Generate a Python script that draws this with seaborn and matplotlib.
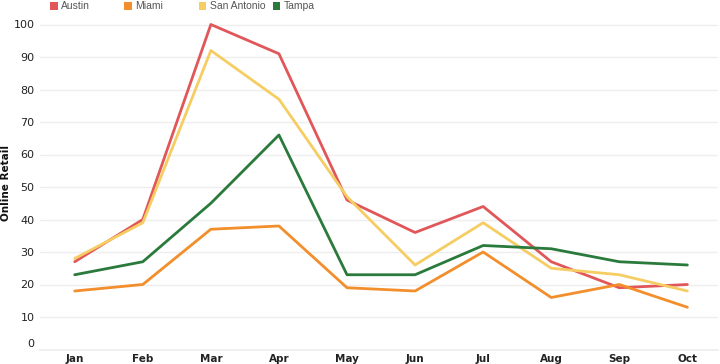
import matplotlib
matplotlib.use("Agg")
import matplotlib.pyplot as plt
import matplotlib.transforms as mtransforms
from matplotlib.patches import Rectangle
from matplotlib import font_manager
import seaborn as sns
import pandas as pd

months = ["Jan", "Feb", "Mar", "Apr", "May", "Jun", "Jul", "Aug", "Sep", "Oct"]
cities = ["Austin", "Miami", "San Antonio", "Tampa"]
austin = [27, 40, 100, 91, 46, 36, 44, 27, 19, 20]
miami = [18, 20, 37, 38, 19, 18, 30, 16, 20, 13]
san_antonio = [28, 39, 92, 77, 47, 26, 39, 25, 23, 18]
tampa = [23, 27, 45, 66, 23, 23, 32, 31, 27, 26]
colors = ["#e15759", "#f28e2b", "#f5cd62", "#2a7a3c"]
yticks = [0, 10, 20, 30, 40, 50, 60, 70, 80, 90, 100]

series = {"Austin": austin, "Miami": miami, "San Antonio": san_antonio, "Tampa": tampa}
rows = []
for c in cities:
    for m, v in zip(months, series[c]):
        rows.append({"Month": m, "City": c, "Online Retail": v})
df = pd.DataFrame(rows)

available = {f.name for f in font_manager.fontManager.ttflist}
narrow = "Liberation Sans Narrow" if "Liberation Sans Narrow" in available else "DejaVu Sans"
regular = "Liberation Sans" if "Liberation Sans" in available else "DejaVu Sans"

sns.set_theme(style="white")
plt.rcParams["font.family"] = [regular, "DejaVu Sans"]

fig = plt.figure(figsize=(7.2, 3.64), dpi=100)
W, H = 720, 364
left, right, bottom, top = 40, 718, 349.5, 16
ax = fig.add_axes([left / W, 1 - bottom / H, (right - left) / W, (bottom - top) / H])

sns.lineplot(data=df, x="Month", y="Online Retail", hue="City",
             hue_order=cities, palette=colors, linewidth=2, sort=False,
             legend=False, ax=ax)

ax.set_xlim(-0.51, 9.45)
ax.set_ylim(0, 100 + (24.5 - top) / 3.25)
ax.set_yticks(yticks)
ax.set_xticks(range(len(months)))
ax.set_xticklabels(months)
ax.yaxis.grid(True, color="#eeeeee", linewidth=1)
ax.xaxis.grid(False)
for s in ["top", "right", "left"]:
    ax.spines[s].set_visible(False)
ax.spines["bottom"].set_color("#eeeeee")
ax.tick_params(axis="both", length=0)
ax.tick_params(axis="x", pad=3, labelcolor="#222222")
ax.tick_params(axis="y", pad=4, labelcolor="#222222")
for lab in ax.get_xticklabels():
    lab.set_fontfamily(narrow)
    lab.set_fontweight("bold")
    lab.set_fontsize(7.5)
for lab in ax.get_yticklabels():
    lab.set_fontfamily(narrow)
    lab.set_fontsize(8)
# shift the 0 label up slightly
lab0 = ax.get_yticklabels()[0]
lab0.set_transform(lab0.get_transform() + mtransforms.ScaledTranslation(0, 6.5 / 100, fig.dpi_scale_trans))

ax.set_xlabel("")
ax.set_ylabel("Online Retail", fontsize=7.5, fontweight="bold", color="#111111",
              fontfamily=narrow)
ax.yaxis.set_label_coords((11 - left) / (right - left), 0.5)

# legend
for i, (c, col) in enumerate(zip(cities, colors)):
    x0 = 50 + i * 74.3
    fig.patches.append(Rectangle((x0 / W, 1 - 9.5 / H), 7.5 / W, 7.5 / H,
                                 transform=fig.transFigure, facecolor=col,
                                 edgecolor="none", figure=fig))
    fig.text((x0 + 11) / W, 1 - 6 / H, c, fontsize=7.5, color="#555555",
             va="center", ha="left", fontfamily=regular)

fig.savefig("out.png", dpi=100)
